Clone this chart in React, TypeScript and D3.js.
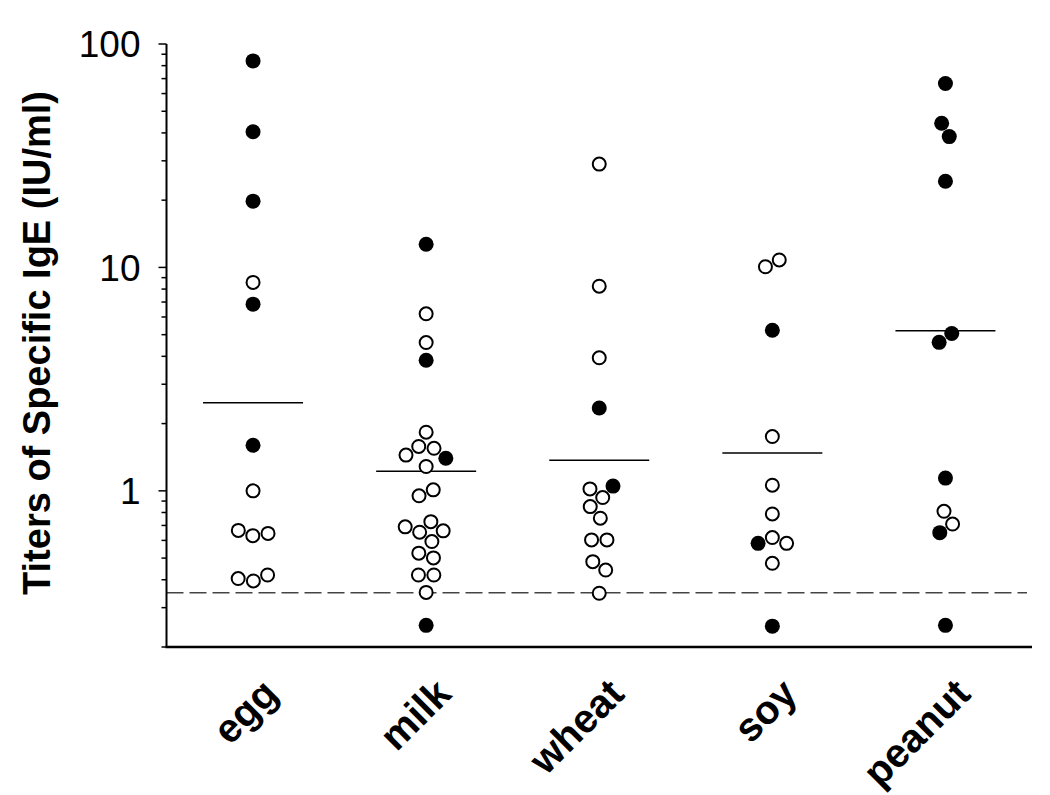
import React, { useEffect, useRef } from "react";
import * as d3 from "d3";

const categories = ["egg", "milk", "wheat", "soy", "peanut"];

// filled circles
const eggFilled = [84, 40.5, 19.8, 6.85, 1.6];
const milkFilled = [12.7, 3.84, 1.4, 0.25];
const wheatFilled = [2.35, 1.05];
const soyFilled = [5.23, 0.582, 0.248];
const peanutFilled = [66.6, 44.2, 38.5, 24.3, 5.06, 4.62, 1.14, 0.65, 0.25];

// open circles
const eggOpen = [8.57, 1.0, 0.63, 0.645, 0.665, 0.405, 0.395, 0.42];
const milkOpen = [
  6.2, 4.61, 1.83, 1.55, 1.58, 1.445, 1.285, 1.01, 0.95, 0.69, 0.728, 0.653,
  0.662, 0.593, 0.526, 0.501, 0.42, 0.42, 0.351
];
const wheatOpen = [29.0, 8.24, 3.94, 1.02, 0.933, 0.85, 0.754, 0.603, 0.603, 0.482, 0.442, 0.348];
const soyOpen = [10.07, 10.8, 1.75, 1.06, 0.788, 0.582, 0.618, 0.474];
const peanutOpen = [0.81, 0.71];

const meanValues = [2.48, 1.225, 1.37, 1.476, 5.2];
const cutoff = 0.35;
const yLabelTicks = [1, 10, 100];

const filledByCat = [eggFilled, milkFilled, wheatFilled, soyFilled, peanutFilled];
const openByCat = [eggOpen, milkOpen, wheatOpen, soyOpen, peanutOpen];

const W = 1050;
const H = 795;
const FONT = "'Liberation Sans', Arial, sans-serif";

const App = () => {
  const ref = useRef<SVGSVGElement>(null);

  useEffect(() => {
    const svg = d3.select(ref.current);
    svg.selectAll("*").remove();

    const left = 166.5;
    const right = 1032;
    const top = 44;
    const bottom = 647;

    const x = d3.scaleBand().domain(categories).range([left, right]).padding(0);
    const y = d3.scaleLog().domain([0.2, 100]).range([bottom, top]);

    // cutoff dashed line
    svg
      .append("line")
      .attr("x1", left)
      .attr("x2", right - 5)
      .attr("y1", y(cutoff))
      .attr("y2", y(cutoff))
      .attr("stroke", "#444")
      .attr("stroke-width", 1.5)
      .attr("stroke-dasharray", "17,6");

    // y axis with minor ticks
    const yAxis = svg.append("g");
    yAxis
      .append("line")
      .attr("x1", left)
      .attr("x2", left)
      .attr("y1", top)
      .attr("y2", bottom)
      .attr("stroke", "#000")
      .attr("stroke-width", 2);

    const allTicks = y.ticks();
    yAxis
      .selectAll("line.tick")
      .data(allTicks)
      .join("line")
      .attr("class", "tick")
      .attr("x1", d => (yLabelTicks.includes(d) ? left - 8 : left - 5))
      .attr("x2", left)
      .attr("y1", d => y(d))
      .attr("y2", d => y(d))
      .attr("stroke", "#000")
      .attr("stroke-width", 1.5);

    yAxis
      .selectAll("text")
      .data(yLabelTicks)
      .join("text")
      .attr("x", left - 26)
      .attr("y", d => y(d))
      .attr("dy", "0.36em")
      .attr("text-anchor", "end")
      .attr("font-family", FONT)
      .attr("font-size", 37)
      .text(d => d);

    // x axis line
    svg
      .append("line")
      .attr("x1", left - 1)
      .attr("x2", right)
      .attr("y1", bottom)
      .attr("y2", bottom)
      .attr("stroke", "#000")
      .attr("stroke-width", 2.5);

    // y title
    svg
      .append("text")
      .attr("transform", `translate(50,343) rotate(-90)`)
      .attr("text-anchor", "middle")
      .attr("font-family", FONT)
      .attr("font-weight", "bold")
      .attr("font-size", 38)
      .text("Titers of Specific IgE (IU/ml)");

    // x labels
    svg
      .selectAll("text.xlab")
      .data(categories)
      .join("text")
      .attr("class", "xlab")
      .attr("transform", d => `translate(${x(d)! + x.bandwidth() / 2 + 27},${bottom + 49}) rotate(-45)`)
      .attr("text-anchor", "end")
      .attr("font-family", FONT)
      .attr("font-weight", "bold")
      .attr("font-size", 40)
      .text(d => d);

    // mean lines
    svg
      .selectAll("line.mean")
      .data(meanValues)
      .join("line")
      .attr("class", "mean")
      .attr("x1", (_, i) => x(categories[i])! + x.bandwidth() / 2 - 50)
      .attr("x2", (_, i) => x(categories[i])! + x.bandwidth() / 2 + 50)
      .attr("y1", d => y(d))
      .attr("y2", d => y(d))
      .attr("stroke", "#000")
      .attr("stroke-width", 1.5);

    // points, spread sideways as a swarm
    type Node = { cx: number; x: number; y: number; fy: number; filled: boolean };
    const r = 7.5;
    categories.forEach((cat, ci) => {
      const cx = x(cat)! + x.bandwidth() / 2;
      const nodes: Node[] = [
        ...filledByCat[ci].map(v => ({ v, filled: true })),
        ...openByCat[ci].map(v => ({ v, filled: false }))
      ]
        .sort((a, b) => b.v - a.v)
        .map((p, i) => ({
          cx,
          x: cx + (i % 2 ? -1 : 1) * (1 + (i % 3)),
          y: y(p.v),
          fy: y(p.v),
          filled: p.filled
        }));

      const sim = d3
        .forceSimulation(nodes as any)
        .force("x", d3.forceX(cx).strength(0.08))
        .force("collide", d3.forceCollide(r + 0.2))
        .stop();
      for (let k = 0; k < 300; k++) sim.tick();

      svg
        .append("g")
        .selectAll("circle")
        .data(nodes)
        .join("circle")
        .attr("cx", d => d.x)
        .attr("cy", d => d.fy)
        .attr("r", d => (d.filled ? r : r - 1))
        .attr("fill", d => (d.filled ? "#000" : "#fff"))
        .attr("stroke", "#000")
        .attr("stroke-width", d => (d.filled ? 0 : 2));
    });
  }, []);

  return (
    <svg
      ref={ref}
      width={W}
      height={H}
      style={{ position: "absolute", left: 0, top: 0, background: "#fff" }}
    />
  );
};

export default App;
